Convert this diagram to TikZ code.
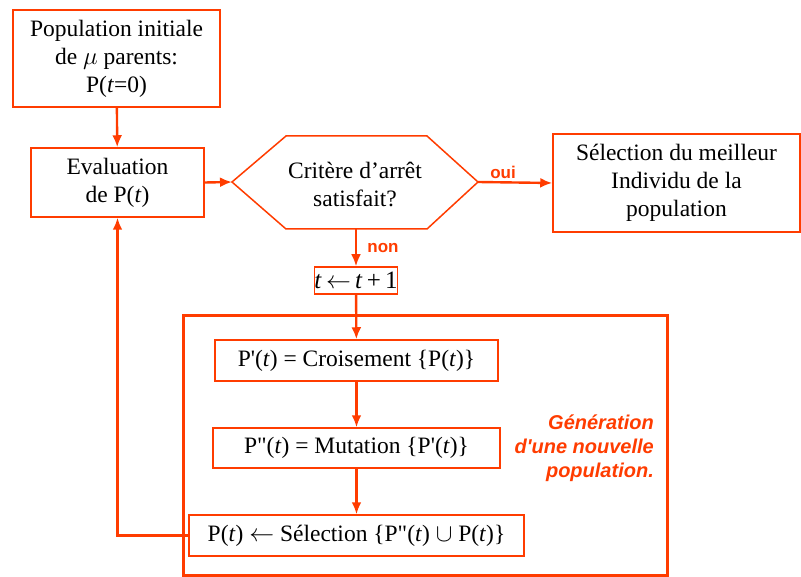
\documentclass[tikz,border=0pt]{standalone}
\usepackage{fontspec}
\setmainfont{Liberation Serif}
\newfontfamily\etiqfont{Liberation Sans}
\usetikzlibrary{arrows.meta}
\definecolor{rouge}{RGB}{255,60,0}
\tikzset{
  boite/.style={draw=rouge,line width=1.5pt,rectangle,align=center,
                inner sep=0pt,font=\fontsize{23.5}{28}\selectfont},
  texte/.style={align=center,inner sep=0pt,font=\fontsize{23.5}{28}\selectfont},
  fleche/.style={rouge,line width=2.4pt,-{Latex[length=12pt,width=10pt]}},
  etiq/.style={text=rouge,inner sep=0pt,font=\etiqfont\bfseries\fontsize{17}{19}\selectfont}
}
\begin{document}
\begin{tikzpicture}[x=1pt,y=-1pt]
  \useasboundingbox (0,0) rectangle (801,577);

  % boites du haut
  \node[boite,minimum width=207pt,minimum height=97pt] (init) at (116.5,58.5)
    {Population initiale\\de $\mu$ parents:\\P(\textit{t}=0)};
  \node[boite,minimum width=173pt,minimum height=69pt] (eval) at (117.5,182.5)
    {Evaluation\\de P(\textit{t})};
  \node[boite,minimum width=247pt,minimum height=98pt] (meilleur) at (676.5,183)
    {S\'election du meilleur\\Individu de la\\population};

  % test d'arret
  \coordinate (hexg) at (232,182);
  \coordinate (hexd) at (478,182);
  \coordinate (hexb) at (356,229);
  \draw[rouge,line width=1.5pt] (hexg) -- (286,136) -- (427,136) -- (hexd)
    -- (427,229) -- (hexb) -- (286,229) -- cycle;
  \node[texte] (critere) at (355,184) {Crit\`ere d’arr\^et\\satisfait?};

  \node[boite,minimum width=82pt,minimum height=27pt,
        font=\fontsize{25}{28}\selectfont] (incr) at (356,280.5)
    {\textit{t}\,$\leftarrow$\,\textit{t}\,+\,1};

  % generation
  \draw[rouge,line width=3pt] (183,316) rectangle (667,575);
  \node[boite,minimum width=283pt,minimum height=41pt] (crois) at (356.5,360.5)
    {P\textquotesingle(\textit{t}) = Croisement \{P(\textit{t})\}};
  \node[boite,minimum width=287pt,minimum height=40pt] (mut) at (356.5,448)
    {P\textquotedbl(\textit{t}) = Mutation \{P\textquotesingle(\textit{t})\}};
  \node[boite,minimum width=335pt,minimum height=41pt] (sel) at (356.5,535.5)
    {P(\textit{t}) $\leftarrow$ S\'election \{P\textquotedbl(\textit{t}) $\cup$ P(\textit{t})\}};
  \node[align=right,anchor=east,inner sep=0pt,text=rouge,
        font=\etiqfont\bfseries\itshape\fontsize{20}{24}\selectfont] (gen) at (654,448)
    {G\'en\'eration\\d\textquotesingle une nouvelle\\population.};

  % fleches
  \draw[fleche] (init) -- (eval);
  \draw[fleche] (eval.east) -- (hexg);
  \draw[fleche] (hexd) -- (meilleur.west);
  \draw[fleche] (hexb) -- (incr);
  \draw[fleche] (incr) -- (crois);
  \draw[fleche] (crois) -- (mut);
  \draw[fleche] (mut) -- (sel);
  \draw[fleche] (sel.west) -| (eval.south);

  \node[etiq] (oui) at (503,172) {oui};
  \node[etiq] (non) at (383,248) {non};
\end{tikzpicture}
\end{document}
